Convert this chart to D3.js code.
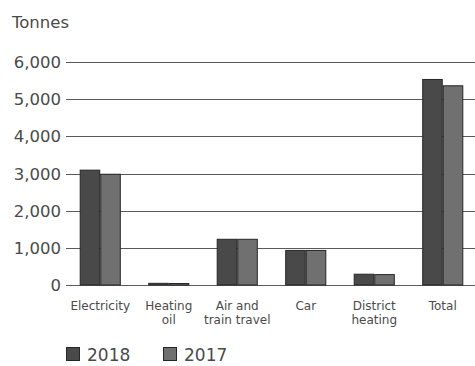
<!DOCTYPE html>
<html><head><meta charset="utf-8">
<script src="https://cdn.jsdelivr.net/npm/d3@7"></script>
<style>
body{margin:0;background:#fff;}
svg{display:block;}
text{font-family:"DejaVu Sans",sans-serif;fill:#4a4a4a;}
</style></head>
<body><svg id="c" width="475" height="366"></svg>
<script>
const categories = [["Electricity"],["Heating","oil"],["Air and","train travel"],["Car"],["District","heating"],["Total"]];
const series = ["2018","2017"];
const values2018 = [3090, 45, 1230, 930, 290, 5530];
const values2017 = [2980, 40, 1230, 930, 280, 5360];
const yTicks = [0,1000,2000,3000,4000,5000,6000];
const colors = ["#494949","#707070"];

const svg = d3.select("#c");
const x = d3.scaleBand().domain(d3.range(categories.length)).range([66,477]).paddingInner(0.4).paddingOuter(0.2);
const xs = d3.scaleBand().domain(series).range([0,x.bandwidth()]);
const y = d3.scaleLinear().domain([0,6000]).range([285,62]);

svg.append("text").attr("x",12).attr("y",28).attr("font-size",16.5).text("Tonnes");

const g = svg.append("g");
g.selectAll("line.grid").data(yTicks).join("line")
  .attr("x1",66).attr("x2",475).attr("y1",d=>Math.round(y(d))+0.5).attr("y2",d=>Math.round(y(d))+0.5)
  .attr("stroke","#5a5a5a").attr("stroke-width",1.2);
g.selectAll("text.yl").data(yTicks).join("text")
  .attr("x",61).attr("y",d=>y(d)+6).attr("text-anchor","end").attr("font-size",16.5)
  .text(d=>d3.format(",")(d));

const vals = [values2018, values2017];
series.forEach((s,si)=>{
  svg.append("g").selectAll("rect").data(vals[si]).join("rect")
    .attr("x",(d,i)=>x(i)+xs(s)+0.5)
    .attr("y",d=>y(d))
    .attr("width",xs.bandwidth()-1)
    .attr("height",d=>y(0)-y(d))
    .attr("fill",colors[si]).attr("stroke","#262626").attr("stroke-width",1);
});

const lab = svg.append("g");
categories.forEach((c,i)=>{
  const t = lab.append("text").attr("x",x(i)+x.bandwidth()/2).attr("y",310)
    .attr("text-anchor","middle").attr("font-size",12);
  c.forEach((line,li)=>t.append("tspan").attr("x",x(i)+x.bandwidth()/2).attr("dy",li?13.5:0).text(line));
});

const leg = svg.append("g");
const lx = [66,163];
series.forEach((s,si)=>{
  leg.append("rect").attr("x",lx[si]+0.5).attr("y",347.5).attr("width",13).attr("height",13)
    .attr("fill",colors[si]).attr("stroke","#262626");
  leg.append("text").attr("x",lx[si]+21).attr("y",361).attr("font-size",17).attr("fill","#333").text(s);
});
</script></body></html>
